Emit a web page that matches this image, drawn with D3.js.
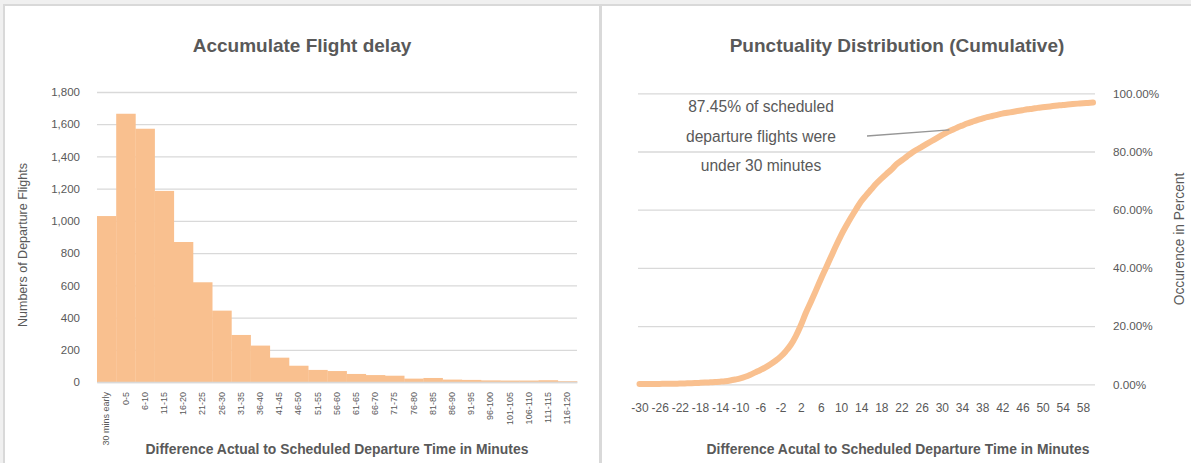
<!DOCTYPE html>
<html>
<head>
<meta charset="utf-8">
<script src="https://cdn.jsdelivr.net/npm/d3@7"></script>
<style>
  body { margin: 0; background: #f0f0f0; font-family: "Liberation Sans", Arial, sans-serif; }
  svg { display: block; }
</style>
</head>
<body>
<svg id="chart" width="1191" height="463"></svg>
<script>
// left chart: delay buckets and flight counts
var delayBuckets = ["30 mins early", "0-5", "6-10", "11-15", "16-20", "21-25", "26-30", "31-35", "36-40", "41-45",
  "46-50", "51-55", "56-60", "61-65", "66-70", "71-75", "76-80", "81-85", "86-90", "91-95",
  "96-100", "101-105", "106-110", "111-115", "116-120"];
var flightCounts = [1030, 1665, 1572, 1186, 869, 619, 443, 292, 226, 151,
  101, 75, 68, 50, 43, 39, 21, 25, 15, 13,
  10, 9, 9, 11, 5];
var countTicks = [0, 200, 400, 600, 800, 1000, 1200, 1400, 1600, 1800];

// right chart: minutes difference and cumulative percent
var minutes = d3.range(-30, 61);
var cumulativePct = [0.10, 0.11, 0.12, 0.13, 0.14, 0.16, 0.18, 0.21, 0.25, 0.30,
  0.35, 0.42, 0.50, 0.58, 0.67, 0.78, 0.90, 1.05, 1.30, 1.65,
  2.05, 2.60, 3.30, 4.10, 4.90, 5.80, 6.90, 8.10, 9.50, 11.30,
  13.50, 16.50, 20.20, 24.50, 28.30, 32.20, 36.20, 40.00, 43.80, 47.60,
  51.20, 54.40, 57.40, 60.20, 62.90, 65.00, 67.00, 69.00, 70.70, 72.30,
  73.80, 75.60, 76.90, 78.20, 79.50, 80.60, 81.60, 82.60, 83.60, 84.60,
  85.60, 86.60, 87.40, 88.20, 88.90, 89.60, 90.20, 90.80, 91.30, 91.80,
  92.20, 92.60, 93.00, 93.30, 93.60, 93.90, 94.20, 94.50, 94.70, 95.00,
  95.20, 95.40, 95.60, 95.80, 96.00, 96.15, 96.30, 96.45, 96.60, 96.70, 96.80];
var minuteTicks = d3.range(-30, 59, 4);
var pctTicks = [0, 20, 40, 60, 80, 100];
var noteLines = ["87.45% of scheduled", "departure flights were", "under 30 minutes"];

var textColor = "#595959";
var gridColor = "#d9d9d9";
var orange = "#f9c08f";
var font = "Liberation Sans, Arial, sans-serif";

var svg = d3.select("#chart");

// panels
svg.append("rect").attr("x", 4).attr("y", 5).attr("width", 596).attr("height", 470)
  .attr("fill", "#fff").attr("stroke", gridColor).attr("stroke-width", 2);
svg.append("rect").attr("x", 601).attr("y", 5).attr("width", 600).attr("height", 470)
  .attr("fill", "#fff").attr("stroke", gridColor).attr("stroke-width", 2);

// ---------- left chart ----------
var left = svg.append("g");

var x1 = d3.scaleBand().domain(delayBuckets).range([97, 577]).padding(0);
var y1 = d3.scaleLinear().domain([0, 1800]).range([382, 92]);

left.append("g")
  .attr("transform", "translate(97,0)")
  .call(d3.axisLeft(y1).tickValues(countTicks).tickSize(-480).tickFormat(d3.format(",")))
  .call(function(g) {
    g.select(".domain").remove();
    g.selectAll(".tick line").attr("stroke", gridColor).attr("stroke-width", 1.3);
    g.selectAll(".tick text").attr("x", -17).attr("fill", textColor)
      .style("font-size", "11.5px").style("font-family", font);
  });

left.selectAll(".bar")
  .data(flightCounts)
  .enter()
  .append("rect")
  .attr("class", "bar")
  .attr("x", function(d, i) { return x1(delayBuckets[i]); })
  .attr("y", function(d) { return y1(d); })
  .attr("width", x1.bandwidth() + 0.3)
  .attr("height", function(d) { return y1(0) - y1(d); })
  .attr("fill", orange);

left.append("g")
  .attr("transform", "translate(0,382)")
  .call(d3.axisBottom(x1).tickSize(0))
  .call(function(g) {
    g.select(".domain").attr("stroke", gridColor).attr("stroke-width", 1.3);
    g.selectAll(".tick text")
      .attr("transform", "rotate(-90)")
      .attr("x", -10).attr("y", 0).attr("dy", "0.32em")
      .attr("text-anchor", "end")
      .attr("fill", textColor)
      .style("font-size", "9px").style("font-family", font);
  });

left.append("text")
  .attr("x", 302).attr("y", 52)
  .attr("text-anchor", "middle").attr("fill", textColor)
  .style("font-size", "19px").style("font-weight", "bold")
  .text("Accumulate Flight delay");

left.append("text")
  .attr("transform", "translate(27,245) rotate(-90)")
  .attr("text-anchor", "middle").attr("fill", textColor)
  .style("font-size", "12.5px")
  .text("Numbers of Departure Flights");

left.append("text")
  .attr("x", 337).attr("y", 454)
  .attr("text-anchor", "middle").attr("fill", textColor)
  .style("font-size", "13.9px").style("font-weight", "bold")
  .text("Difference Actual to Scheduled Departure Time in Minutes");

// ---------- right chart ----------
var right = svg.append("g");

var x2 = d3.scaleLinear().domain([-30, 60]).range([639.5, 1093]);
var y2 = d3.scaleLinear().domain([0, 100]).range([384.3, 93.3]);

right.append("g")
  .attr("transform", "translate(1095,0)")
  .call(d3.axisRight(y2).tickValues(pctTicks).tickSize(-457).tickFormat(function(d) { return d.toFixed(2) + "%"; }))
  .call(function(g) {
    g.select(".domain").remove();
    g.selectAll(".tick line").attr("stroke", gridColor).attr("stroke-width", 1.3);
    g.selectAll(".tick text").attr("x", 18).attr("fill", textColor)
      .style("font-size", "11.7px").style("font-family", font);
  });

right.append("g")
  .attr("transform", "translate(0,384.3)")
  .call(d3.axisBottom(x2).tickValues(minuteTicks).tickSize(0).tickFormat(function(d) { return String(d); }))
  .call(function(g) {
    g.select(".domain").remove();
    g.selectAll(".tick text").attr("y", 19).attr("fill", textColor)
      .style("font-size", "12px").style("font-family", font);
  });

var line = d3.line()
  .x(function(d, i) { return x2(minutes[i]); })
  .y(function(d) { return y2(d); })
  .curve(d3.curveMonotoneX);

right.append("path")
  .datum(cumulativePct)
  .attr("d", line)
  .attr("fill", "none")
  .attr("stroke", orange)
  .attr("stroke-width", 6)
  .attr("stroke-linecap", "round")
  .attr("stroke-linejoin", "round");

// annotation
right.append("line")
  .attr("x1", 867).attr("y1", 136)
  .attr("x2", x2(31.5)).attr("y2", y2(87.45))
  .attr("stroke", "#969696").attr("stroke-width", 1.3);

right.append("text")
  .attr("text-anchor", "middle").attr("fill", textColor)
  .style("font-size", "15.6px")
  .selectAll("tspan")
  .data(noteLines)
  .enter()
  .append("tspan")
  .attr("x", 761)
  .attr("y", function(d, i) { return 112 + i * 29.7; })
  .text(function(d) { return d; });

right.append("text")
  .attr("x", 897).attr("y", 52)
  .attr("text-anchor", "middle").attr("fill", textColor)
  .style("font-size", "19px").style("font-weight", "bold")
  .text("Punctuality Distribution (Cumulative)");

right.append("text")
  .attr("transform", "translate(1184,239) rotate(-90)")
  .attr("text-anchor", "middle").attr("fill", textColor)
  .style("font-size", "13.8px")
  .text("Occurence in Percent");

right.append("text")
  .attr("x", 898).attr("y", 454)
  .attr("text-anchor", "middle").attr("fill", textColor)
  .style("font-size", "13.9px").style("font-weight", "bold")
  .text("Difference Acutal to Scheduled Departure Time in Minutes");
</script>
</body>
</html>
